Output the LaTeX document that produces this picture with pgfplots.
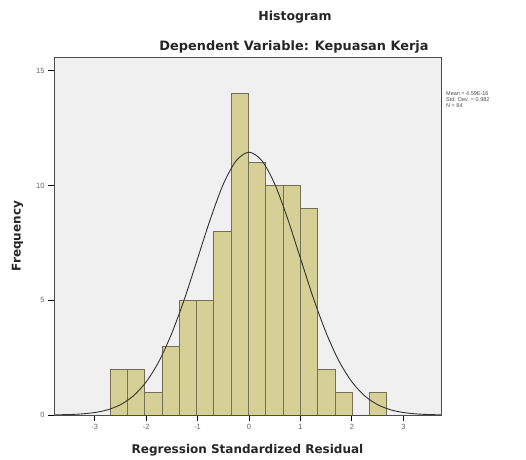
\documentclass[border=0pt]{standalone}
\usepackage{pgfplots}
\pgfplotsset{compat=1.18}
\usepackage{fontspec}
\setmainfont{Liberation Sans}
\newfontfamily\labfont{DejaVu Sans}
\definecolor{barfill}{RGB}{214,208,150}
\definecolor{baredge}{RGB}{115,112,85}
\definecolor{plotbg}{RGB}{240,240,240}
\pgfplotstableread{
x y
-2.532 2
-2.196 2
-1.860 1
-1.524 3
-1.188 5
-0.852 5
-0.516 8
-0.180 14
0.156 11
0.492 10
0.828 10
1.164 9
1.500 2
1.836 1
2.172 0
2.508 1
}\histdata
\begin{document}
\begin{tikzpicture}
\path[use as bounding box] (0pt,0pt) rectangle (526pt,459pt);
\begin{axis}[
  at={(54pt,44pt)}, anchor=south west,
  scale only axis, width=387pt, height=358pt,
  xmin=-3.79, xmax=3.73, ymin=0, ymax=15.6,
  axis background/.style={fill=plotbg},
  axis line style={draw=black!70, line width=0.8pt},
  xtick={-3,-2,-1,0,1,2,3}, ytick={0,5,10,15},
  xtick align=outside, ytick align=outside,
  xtick pos=bottom, ytick pos=left,
  major tick length=6pt,
  every tick/.append style={black, line width=1pt},
  ticklabel style={font=\fontsize{7.5}{8}\selectfont, text=black!60},
  /pgf/number format/assume math mode=true,
  xlabel={Regression Standardized Residual},
  ylabel={Frequency},
  label style={font=\labfont\bfseries\fontsize{12}{14}\selectfont, text=black!85},
  xlabel style={yshift=-8pt},
  ylabel style={yshift=6pt},
  clip=true,
  axis on top,
]
\addplot[ybar, fill=barfill, draw=baredge, line width=0.7pt, bar width=0.336]
  table[x=x,y=y] {\histdata};
\addplot[smooth, black!80, line width=0.9pt] coordinates {
(-3.79,0.007) (-3.5,0.020) (-3.25,0.048) (-3.0,0.108) (-2.75,0.227) (-2.5,0.448)
(-2.25,0.829) (-2.0,1.44) (-1.75,2.34) (-1.5,3.57) (-1.25,5.09) (-1.0,6.82)
(-0.75,8.55) (-0.5,10.06) (-0.25,11.08) (0,11.45) (0.25,11.08) (0.5,10.06)
(0.75,8.55) (1.0,6.82) (1.25,5.09) (1.5,3.57) (1.75,2.34) (2.0,1.44)
(2.25,0.829) (2.5,0.448) (2.75,0.227) (3.0,0.108) (3.25,0.048) (3.5,0.020) (3.73,0.008)
};
\end{axis}
\node[font=\labfont\bfseries\fontsize{12.5}{14}\selectfont, text=black!85] at (295pt,442pt) {Histogram};
\node[font=\labfont\bfseries\fontsize{12.9}{14}\selectfont, text=black!85] at (294pt,412pt) {Dependent Variable: Kepuasan Kerja};
\node[anchor=north west, align=left, font=\fontsize{5.5}{6}\selectfont, text=black!70, inner sep=0pt] at (446pt,368pt)
  {Mean = 4.59E-16\\Std. Dev. = 0.982\\N = 84};
\end{tikzpicture}
\end{document}
